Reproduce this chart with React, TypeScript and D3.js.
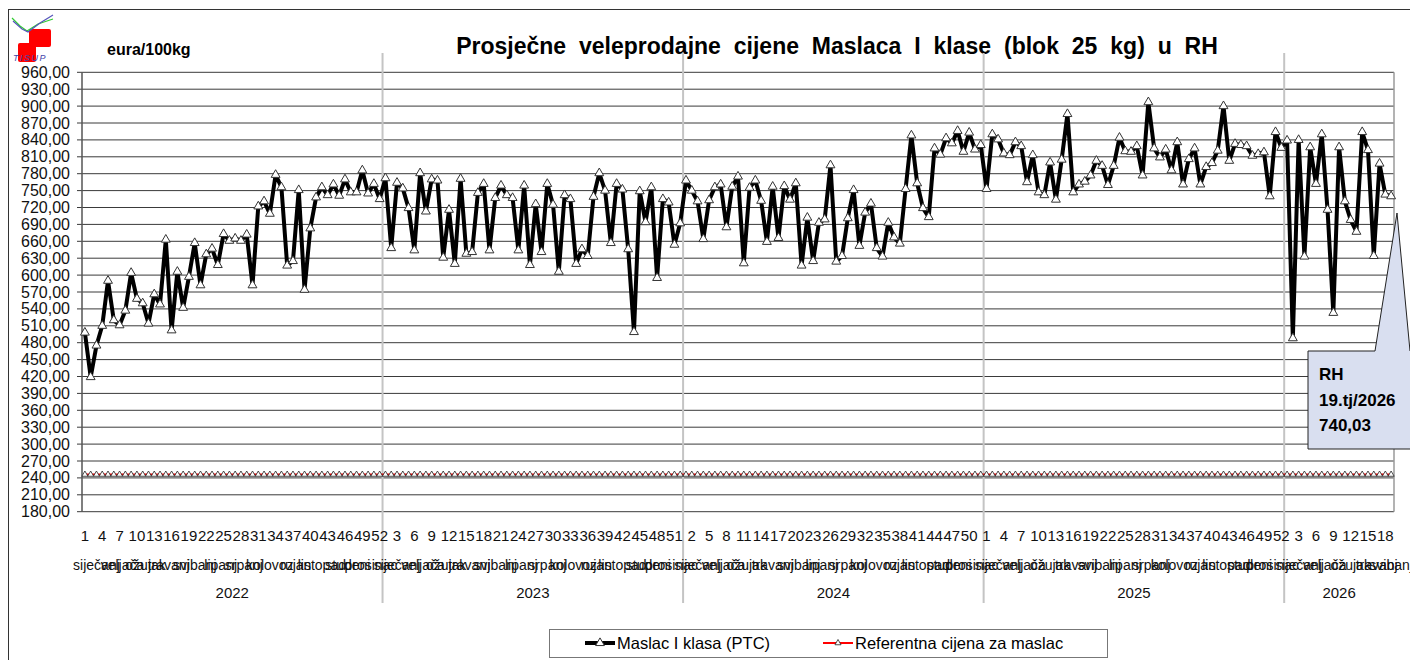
import React from 'react';
import * as d3 from 'd3';

// weekly prices, eura/100kg
const years = ['2022', '2023', '2024', '2025', '2026'];
const maslac2022 = [498, 419, 475, 510, 590, 520, 511, 537, 604, 558, 550, 514, 566, 548, 663, 502, 606, 542, 597, 657, 582, 637, 647, 618, 673, 661, 665, 661, 672, 582, 722, 731, 709, 778, 756, 617, 625, 751, 574, 683, 738, 756, 742, 761, 741, 770, 747, 747, 786, 745, 762, 735];
const maslac2023 = [772, 648, 764, 754, 719, 644, 781, 713, 770, 768, 631, 716, 620, 771, 638, 641, 746, 762, 644, 737, 759, 742, 737, 644, 759, 618, 726, 641, 762, 725, 606, 742, 735, 620, 646, 634, 739, 781, 750, 657, 762, 752, 646, 499, 749, 694, 756, 595, 735, 729, 654, 692];
const maslac2024 = [768, 750, 731, 664, 733, 756, 761, 685, 757, 775, 621, 755, 768, 732, 659, 757, 666, 758, 734, 763, 617, 702, 625, 693, 699, 795, 624, 634, 701, 751, 652, 711, 727, 648, 633, 693, 667, 656, 753, 848, 763, 719, 703, 825, 814, 843, 834, 856, 819, 853, 823, 831];
const maslac2025 = [753, 850, 841, 816, 813, 836, 829, 765, 813, 747, 742, 800, 734, 805, 886, 747, 761, 766, 777, 803, 794, 760, 794, 844, 820, 819, 829, 777, 907, 825, 809, 823, 786, 836, 761, 806, 825, 761, 792, 799, 821, 900, 803, 833, 831, 829, 812, 815, 818, 740, 854, 826];
const maslac2026 = [839, 488, 840, 633, 827, 762, 850, 716, 533, 827, 731, 698, 677, 854, 822, 634, 798, 743, 740.03];
const maslacByYear = [maslac2022, maslac2023, maslac2024, maslac2025, maslac2026];
const referentnaCijena = 246;

const monthNames = ['siječanj', 'veljača', 'ožujak', 'travanj', 'svibanj', 'lipanj', 'srpanj', 'kolovoz', 'rujan', 'listopad', 'studeni', 'prosinac'];
// number of weeks under each month label, per year
const monthWeeks2022 = [5, 4, 4, 4, 5, 4, 4, 5, 4, 5, 4, 4];
const monthWeeks2023 = [5, 4, 4, 4, 5, 4, 5, 4, 4, 5, 4, 4];
const monthWeeks2024 = [5, 4, 4, 5, 4, 4, 5, 4, 5, 4, 4, 4];
const monthWeeks2025 = [5, 4, 5, 4, 4, 5, 4, 4, 5, 4, 4, 4];
const monthWeeks2026 = [5, 4, 5, 4, 1];
const monthWeeksByYear = [monthWeeks2022, monthWeeks2023, monthWeeks2024, monthWeeks2025, monthWeeks2026];

const yTicks = [180, 210, 240, 270, 300, 330, 360, 390, 420, 450, 480, 510, 540, 570, 600, 630, 660, 690, 720, 750, 780, 810, 840, 870, 900, 930, 960];

const FONT = '"Liberation Sans", Arial, sans-serif';

type Row = { key: string; year: string; week: number; value: number };

const rows: Row[] = [];
years.forEach((yr, yi) => {
  maslacByYear[yi].forEach((v, wi) => {
    rows.push({ key: `${yr}-${wi + 1}`, year: yr, week: wi + 1, value: v });
  });
});

const App: React.FC = () => {
  const left = 82, right = 1394, top = 72.3, bottom = 511.7;

  const x = d3.scaleBand<string>()
    .domain(rows.map(d => d.key))
    .range([left, right]);
  const cx = (k: string) => x(k)! + x.bandwidth() / 2;

  const y = d3.scaleLinear()
    .domain([180, 960])
    .range([bottom, top]);

  const line = d3.line<Row>()
    .x(d => cx(d.key))
    .y(d => y(d.value));

  const refLine = d3.line<Row>()
    .x(d => cx(d.key))
    .y(() => y(referentnaCijena));

  const tri = d3.symbol(d3.symbolTriangle, 34)()!;
  const triSmall = d3.symbol(d3.symbolTriangle, 16)()!;

  const fmt = (v: number) => v.toFixed(2).replace('.', ',');

  // month label positions
  const monthLabels: { name: string; x: number }[] = [];
  years.forEach((yr, yi) => {
    let w = 1;
    monthWeeksByYear[yi].forEach((n, mi) => {
      const a = cx(`${yr}-${w}`);
      const b = cx(`${yr}-${w + n - 1}`);
      monthLabels.push({ name: monthNames[mi], x: (a + b) / 2 });
      w += n;
    });
  });

  const yearLabels = years.map((yr, yi) => {
    const n = maslacByYear[yi].length;
    return { name: yr, x: (x(`${yr}-1`)! + x(`${yr}-${n}`)! + x.bandwidth()) / 2 };
  });
  const separators = years.slice(1).map(yr => x(`${yr}-1`)!);

  const last = rows[rows.length - 1];

  return (
    <svg width={1410} height={660} style={{ position: 'absolute', left: 0, top: 0, background: '#fff' }}
      fontFamily={FONT}>
      <rect x={8.5} y={9.5} width={1420} height={660} fill="#fff" stroke="#333" />

      {/* logo */}
      <g>
        <rect x={29} y={29} width={22} height={18} rx={2} fill="#ff0000" />
        <rect x={18} y={43} width={18} height={19} rx={2} fill="#ff0000" />
        <polyline points="12,18 20,26 27,31 38,24 53,19" fill="none" stroke="#33cc33" strokeWidth={1.2} />
        <polyline points="13,21 22,29 28,32 40,23 53,15" fill="none" stroke="#5555bb" strokeWidth={1.2} />
        <text x={13} y={61} fontSize={9} fontStyle="italic" fill="#4444aa" letterSpacing={1.5}>TISUP</text>
      </g>

      <text x={107} y={55} fontSize={16} fontWeight="bold">eura/100kg</text>
      <text x={837} y={54} fontSize={23} fontWeight="bold" textAnchor="middle" wordSpacing={6.5}>
        Prosječne veleprodajne cijene Maslaca I klase (blok 25 kg) u RH
      </text>

      {/* gridlines */}
      {yTicks.map(t => (
        <g key={t}>
          <line x1={left - 5} x2={right} y1={y(t)} y2={y(t)} stroke="#3a3a3a" strokeWidth={1} />
          <text x={70} y={y(t) + 5.5} fontSize={16} textAnchor="end" fill="#111">{fmt(t)}</text>
        </g>
      ))}
      <line x1={right} x2={right} y1={top} y2={bottom} stroke="#9a9a9a" strokeWidth={1.5} />
      <line x1={left} x2={left} y1={top} y2={bottom} stroke="#555" strokeWidth={1.5} />

      {separators.map((sx, i) => (
        <line key={i} x1={sx} x2={sx} y1={53} y2={603} stroke="#c4c4c4" strokeWidth={2} />
      ))}

      {/* reference price */}
      <path d={refLine(rows)!} fill="none" stroke="#ff0000" strokeWidth={2} />
      {rows.map(d => (
        <path key={'r' + d.key} d={triSmall} transform={`translate(${cx(d.key)},${y(referentnaCijena)})`}
          fill="#fff" stroke="#222" strokeWidth={0.8} />
      ))}

      {/* butter price */}
      <path d={line(rows)!} fill="none" stroke="#000" strokeWidth={4} strokeLinejoin="round" />
      {rows.map(d => (
        <path key={'m' + d.key} d={tri} transform={`translate(${cx(d.key)},${y(d.value)})`}
          fill="#fff" stroke="#333" strokeWidth={1} />
      ))}

      {/* x axis labels */}
      {rows.map((d, i) => i % 3 === 0 ? (
        <text key={'w' + d.key} x={cx(d.key)} y={541} fontSize={15} textAnchor="middle" fill="#111">{d.week}</text>
      ) : null)}
      {monthLabels.map((m, i) => (
        <text key={'mo' + i} x={m.x} y={570} fontSize={14} textAnchor="middle" fill="#111">{m.name}</text>
      ))}
      {yearLabels.map(l => (
        <text key={l.name} x={l.x} y={598} fontSize={15} textAnchor="middle" fill="#111">{l.name}</text>
      ))}

      {/* callout */}
      <polygon points="1308,351 1375,351 1397,213 1410,351 1425,351 1425,449 1308,449"
        fill="#d9dff0" stroke="#222" strokeWidth={1} />
      <text x={1319} y={380} fontSize={17} fontWeight="bold">RH</text>
      <text x={1319} y={406} fontSize={17} fontWeight="bold">{`${last.week}.tj/${last.year}`}</text>
      <text x={1319} y={431} fontSize={17} fontWeight="bold">{fmt(last.value)}</text>

      {/* legend */}
      <rect x={549.5} y={629.5} width={558} height={28} fill="#fff" stroke="#777" />
      <line x1={585} x2={615} y1={643} y2={643} stroke="#000" strokeWidth={4} />
      <path d={tri} transform="translate(600,643)" fill="#fff" stroke="#333" />
      <text x={617} y={649} fontSize={16.5}>Maslac I klasa (PTC)</text>
      <line x1={823} x2={853} y1={643} y2={643} stroke="#ff0000" strokeWidth={2} />
      <path d={triSmall} transform="translate(838,643)" fill="#fff" stroke="#222" strokeWidth={0.8} />
      <text x={855} y={649} fontSize={16.5}>Referentna cijena za maslac</text>
    </svg>
  );
};

export default App;
